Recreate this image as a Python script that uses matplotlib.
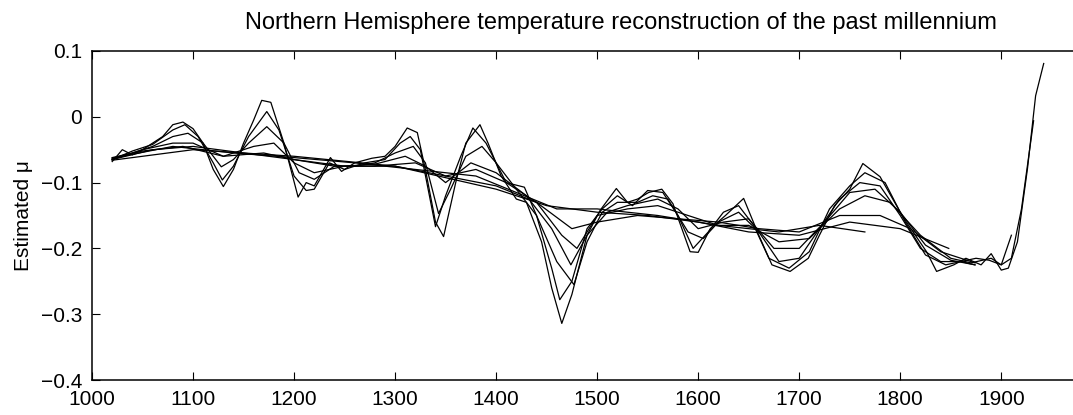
import numpy as np
import matplotlib.pyplot as plt

plt.rcParams['font.family'] = ['Liberation Sans', 'DejaVu Sans']

# Reconstructions, from the least smoothed to the most smoothed
yr1 = [1020, 1030, 1040, 1050, 1060, 1070, 1080, 1090, 1100, 1110, 1120, 1130, 1140, 1150,
       1160, 1168, 1177, 1190, 1204, 1212, 1220, 1236, 1247, 1260, 1277, 1290, 1300, 1312,
       1322, 1330, 1340, 1348, 1360, 1370, 1384, 1392, 1405, 1420, 1430, 1445, 1455, 1465,
       1475, 1490, 1503, 1519, 1530, 1540, 1551, 1564, 1575, 1592, 1600, 1612, 1627, 1645,
       1660, 1673, 1691, 1709, 1720, 1735, 1750, 1763, 1780, 1803, 1826, 1836, 1853, 1865,
       1880, 1890, 1900, 1907, 1916, 1926, 1934, 1942]
mu1 = [-0.068, -0.050, -0.058, -0.050, -0.040, -0.030, -0.012, -0.008, -0.018, -0.040,
       -0.080, -0.106, -0.080, -0.040, -0.005, 0.025, 0.022, -0.040, -0.122, -0.100, -0.105,
       -0.062, -0.083, -0.070, -0.063, -0.060, -0.045, -0.017, -0.024, -0.080, -0.160,
       -0.182, -0.100, -0.040, -0.012, -0.040, -0.090, -0.125, -0.130, -0.190, -0.260,
       -0.314, -0.270, -0.180, -0.142, -0.109, -0.130, -0.125, -0.115, -0.110, -0.132,
       -0.205, -0.206, -0.170, -0.150, -0.124, -0.180, -0.225, -0.235, -0.215, -0.180,
       -0.135, -0.110, -0.071, -0.091, -0.153, -0.205, -0.235, -0.225, -0.215, -0.225,
       -0.208, -0.233, -0.230, -0.190, -0.078, 0.032, 0.081]

yr2 = [1020, 1040, 1060, 1080, 1092, 1105, 1120, 1129, 1140, 1155, 1173, 1185, 1200, 1212,
       1220, 1235, 1250, 1270, 1290, 1305, 1315, 1325, 1340, 1350, 1365, 1377, 1390, 1410,
       1428, 1440, 1455, 1463, 1475, 1490, 1505, 1520, 1535, 1550, 1565, 1580, 1595, 1610,
       1625, 1640, 1655, 1670, 1690, 1710, 1730, 1750, 1765, 1785, 1805, 1825, 1845, 1860,
       1875, 1888, 1900, 1910, 1920, 1932]
mu2 = [-0.065, -0.052, -0.042, -0.020, -0.012, -0.030, -0.070, -0.096, -0.075, -0.030,
       0.008, -0.020, -0.090, -0.112, -0.110, -0.070, -0.080, -0.070, -0.065, -0.040,
       -0.030, -0.050, -0.167, -0.120, -0.060, -0.017, -0.040, -0.100, -0.107, -0.150,
       -0.230, -0.278, -0.250, -0.170, -0.140, -0.120, -0.135, -0.112, -0.115, -0.150,
       -0.200, -0.175, -0.145, -0.135, -0.165, -0.215, -0.230, -0.205, -0.140, -0.105,
       -0.085, -0.100, -0.160, -0.210, -0.225, -0.220, -0.215, -0.218, -0.225, -0.215,
       -0.140, -0.006]

yr3 = [1020, 1040, 1060, 1080, 1095, 1110, 1128, 1140, 1155, 1173, 1190, 1205, 1220, 1240,
       1260, 1280, 1300, 1318, 1330, 1343, 1355, 1370, 1386, 1400, 1420, 1440, 1460, 1477,
       1490, 1505, 1520, 1540, 1555, 1570, 1590, 1605, 1620, 1640, 1660, 1680, 1700, 1720,
       1740, 1760, 1780, 1800, 1820, 1840, 1860, 1874]
mu3 = [-0.062, -0.055, -0.045, -0.030, -0.025, -0.040, -0.076, -0.065, -0.040, -0.015,
       -0.040, -0.085, -0.095, -0.075, -0.075, -0.070, -0.055, -0.045, -0.070, -0.147,
       -0.110, -0.060, -0.045, -0.070, -0.110, -0.150, -0.220, -0.255, -0.190, -0.145,
       -0.130, -0.130, -0.120, -0.125, -0.175, -0.185, -0.160, -0.145, -0.175, -0.220,
       -0.215, -0.170, -0.125, -0.100, -0.105, -0.150, -0.200, -0.220, -0.220, -0.225]

yr4 = [1020, 1050, 1080, 1100, 1130, 1160, 1180, 1200, 1220, 1250, 1280, 1310, 1330, 1350,
       1375, 1400, 1430, 1455, 1474, 1490, 1510, 1530, 1560, 1580, 1600, 1625, 1650, 1675,
       1700, 1725, 1750, 1775, 1800, 1825, 1850, 1874]
mu4 = [-0.065, -0.050, -0.040, -0.040, -0.060, -0.045, -0.040, -0.070, -0.085, -0.075,
       -0.072, -0.060, -0.075, -0.100, -0.070, -0.085, -0.120, -0.170, -0.225, -0.180,
       -0.145, -0.135, -0.125, -0.140, -0.170, -0.160, -0.155, -0.200, -0.200, -0.160,
       -0.115, -0.110, -0.145, -0.195, -0.218, -0.225]

yr5 = [1020, 1050, 1090, 1130, 1170, 1200, 1240, 1280, 1320, 1350, 1380, 1410, 1440, 1465,
       1480, 1500, 1530, 1560, 1590, 1620, 1650, 1680, 1710, 1740, 1765, 1790, 1820, 1850,
       1870, 1890, 1900, 1910]
mu5 = [-0.063, -0.052, -0.045, -0.060, -0.055, -0.065, -0.075, -0.075, -0.070, -0.090,
       -0.080, -0.100, -0.130, -0.180, -0.200, -0.150, -0.140, -0.135, -0.150, -0.165,
       -0.165, -0.190, -0.185, -0.140, -0.120, -0.130, -0.180, -0.215, -0.222, -0.215,
       -0.225, -0.180]

yr6 = [1020, 1060, 1100, 1150, 1200, 1250, 1300, 1350, 1400, 1440, 1475, 1500, 1540, 1580,
       1620, 1660, 1700, 1740, 1780, 1810, 1840, 1874]
mu6 = [-0.065, -0.050, -0.045, -0.055, -0.065, -0.075, -0.075, -0.090, -0.105, -0.130,
       -0.170, -0.160, -0.150, -0.155, -0.160, -0.170, -0.175, -0.150, -0.150, -0.170,
       -0.205, -0.222]

yr7 = [1020, 1100, 1200, 1300, 1400, 1450, 1500, 1550, 1600, 1650, 1700, 1750, 1800, 1848]
mu7 = [-0.066, -0.050, -0.060, -0.075, -0.110, -0.135, -0.145, -0.150, -0.160, -0.175,
       -0.180, -0.160, -0.170, -0.200]

yr8 = [1020, 1080, 1140, 1200, 1260, 1320, 1380, 1420, 1460, 1500, 1560, 1620, 1680, 1720,
       1765]
mu8 = [-0.063, -0.045, -0.055, -0.062, -0.070, -0.080, -0.090, -0.115, -0.140, -0.140,
       -0.150, -0.165, -0.175, -0.165, -0.175]

years = [yr1, yr2, yr3, yr4, yr5, yr6, yr7, yr8]
mus = [mu1, mu2, mu3, mu4, mu5, mu6, mu7, mu8]

xticks = [1000, 1100, 1200, 1300, 1400, 1500, 1600, 1700, 1800, 1900]
yticks = [-0.4, -0.3, -0.2, -0.1, 0, 0.1]
ytick_labels = ['\u22120.4', '\u22120.3', '\u22120.2', '\u22120.1', '0', '0.1']

fig = plt.figure(figsize=(10.73, 4.15), dpi=100)
ax = fig.add_axes([92 / 1073, 35 / 415, 981 / 1073, 329 / 415])

for x, y in zip(years, mus):
    ax.plot(x, y, color='black', lw=0.9)

ax.set_xlim(1000, 1971)
ax.set_ylim(-0.4, 0.1)
ax.set_xticks(xticks)
ax.set_yticks(yticks)
ax.set_yticklabels(ytick_labels)
ax.tick_params(direction='in', length=6, width=0.8, labelsize=15, top=True,
               colors='black')
ax.tick_params(axis='x', pad=7)
ax.tick_params(axis='y', pad=7)
for side in ['left', 'bottom', 'top']:
    ax.spines[side].set_linewidth(1.1)
ax.spines['right'].set_visible(False)

ax.set_ylabel('Estimated \u03bc', fontsize=15)
ax.yaxis.set_label_coords(-0.060, 0.5)
fig.text(997 / 1073, 1 - 29 / 415,
         'Northern Hemisphere temperature reconstruction of the past millennium',
         fontsize=17, ha='right', va='baseline')

fig.savefig('out.png', dpi=100)
